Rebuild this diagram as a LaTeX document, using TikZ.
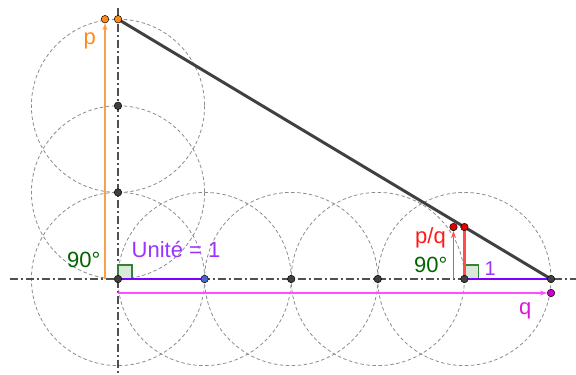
\documentclass[tikz,border=0pt]{standalone}
\usepackage{fontspec}
\setmainfont{Liberation Sans}
\usetikzlibrary{arrows.meta}
\definecolor{axisgray}{HTML}{505050}
\definecolor{circgray}{HTML}{8C8C8C}
\definecolor{segdark}{HTML}{404040}
\definecolor{orgline}{HTML}{F7A24A}
\definecolor{orgdot}{HTML}{FF8C1A}
\definecolor{magline}{HTML}{FF4DFF}
\definecolor{magdot}{HTML}{CC00CC}
\definecolor{purp}{HTML}{7F00FF}
\definecolor{purtext}{HTML}{9933FF}
\definecolor{redline}{HTML}{FF4D4D}
\definecolor{reddot}{HTML}{E00000}
\definecolor{redtext}{HTML}{FF1A1A}
\definecolor{dgreen}{HTML}{006400}
\definecolor{bluedot}{HTML}{4D66CC}
\tikzset{
  circ/.style={draw=circgray, line width=0.8pt, dash pattern=on 3.5pt off 2.5pt},
  axisline/.style={draw=axisgray, line width=1.5pt, dash pattern=on 8pt off 3pt on 2pt off 3pt},
  pt/.style={circle, inner sep=0pt, minimum size=7.5pt, draw=black, line width=0.5pt, fill=#1},
  pt/.default={segdark},
  lab/.style={font=\fontsize{22}{26}\selectfont, inner sep=0pt, anchor=base west},
  rsq/.style={draw=dgreen!80, fill=dgreen!15, line width=1.2pt},
  tip/.style={-{Stealth[length=7pt,width=5pt]}}
}
\begin{document}
\begin{tikzpicture}[x=1pt,y=-1pt]
\useasboundingbox (0,0) rectangle (576,375);
% key coordinates
\coordinate (O) at (118,279);
\coordinate (C1) at (204.6,279);
\coordinate (C2) at (291.2,279);
\coordinate (C3) at (377.8,279);
\coordinate (C4) at (464.4,279);
\coordinate (C5) at (551,279);
\coordinate (D1) at (118,192.4);
\coordinate (D2) at (118,105.8);
\coordinate (D3) at (118,19.2);
% dashed circles
\foreach \c in {O,C1,C2,C3,C4,D1,D2}
  \draw[circ] (\c) circle[radius=86.6];
% axes
\coordinate (axL) at (10,279);
\coordinate (axR) at (576,279);
\coordinate (axT) at (118,8);
\coordinate (axB) at (118,375);
\draw[axisline] (axL) -- (axR);
\draw[axisline] (axT) -- (axB);
% right-angle marks
\draw[rsq] (O) rectangle ++(14,-14);
\draw[rsq] (C4) rectangle ++(14,-14);
% unit segments
\draw[purp, line width=2.6pt] (O) -- (C1);
\draw[purp, line width=2.6pt] (C4) -- (C5);
% hypotenuse
\draw[segdark, line width=3pt] (D3) -- (C5);
% orange p
\coordinate (pB) at (105,279);
\node[pt=orgdot] (pT) at (105,19.2) {};
\draw[orgline, line width=1.4pt, tip] (pB) -- (pT);
% magenta q
\coordinate (qL) at (118,293);
\node[pt=magdot] (qR) at (551,293) {};
\draw[magline, line width=1.4pt, tip] (qL) -- (qR);
% red p/q
\coordinate (rB) at (453.5,279);
\node[pt=reddot] (rT) at (453.5,227) {};
\draw[redline, line width=1.4pt, tip] (rB) -- (rT);
\node[pt=reddot] (R) at (464.4,227.04) {};
\draw[redline, line width=3pt] (C4) -- (R);
% points
\node[pt] (nO) at (O) {};
\node[pt=bluedot] (n1) at (C1) {};
\node[pt] (n2) at (C2) {};
\node[pt] (n3) at (C3) {};
\node[pt] (n4) at (C4) {};
\node[pt] (n5) at (C5) {};
\node[pt] (m1) at (D1) {};
\node[pt] (m2) at (D2) {};
\node[pt=orgdot] (m3) at (D3) {};
% labels
\node[lab, text=orgdot] (lp) at (83.5,44) {p};
\node[lab, text=dgreen] (l90a) at (67,267) {90°};
\node[lab, text=purtext] (lu) at (131.5,257) {Unité = 1};
\node[lab, text=redtext] (lpq) at (415,243) {p/q};
\node[lab, text=dgreen] (l90b) at (414,272) {90°};
\node[lab, text=purtext, font=\fontsize{20}{24}\selectfont] (l1) at (484.5,275) {1};
\node[lab, text=magdot!70!magline] (lq) at (519,314.5) {q};
\end{tikzpicture}
\end{document}
